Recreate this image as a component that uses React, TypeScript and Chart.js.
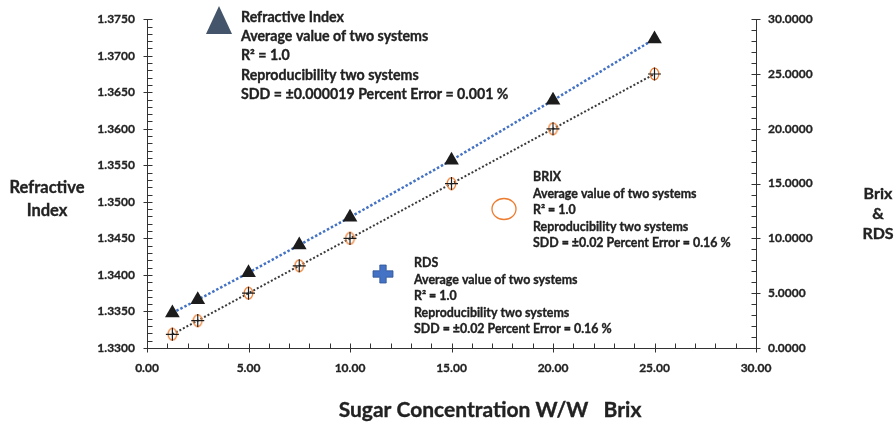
import React, { useEffect, useRef } from 'react';
import { Chart, registerables } from 'chart.js';

Chart.register(...registerables);

// ---- data ----
const brixConc = [1.25, 2.5, 5, 7.5, 10, 15, 20, 25];
const refractiveIndex = [1.3348, 1.3366, 1.3403, 1.3441, 1.3479, 1.3557, 1.3639, 1.3723];
const brixValues = [1.25, 2.5, 5, 7.5, 10, 15, 20, 25];
const rdsValues = [1.25, 2.5, 5, 7.5, 10, 15, 20, 25];

const xTicks = [0, 5, 10, 15, 20, 25, 30];
const riTicks = [1.33, 1.335, 1.34, 1.345, 1.35, 1.355, 1.36, 1.365, 1.37, 1.375];
const brixTicks = [0, 5, 10, 15, 20, 25, 30];

const riTitle = ['Refractive', 'Index'];
const rightTitle = ['Brix', '&', 'RDS'];
const xTitle = 'Sugar Concentration W/W   Brix';

const riNote = [
  'Refractive Index',
  'Average value of two systems',
  'R\u00B2 = 1.0',
  'Reproducibility two systems',
  'SDD = \u00B10.000019 Percent Error = 0.001 %',
];
const brixNote = [
  'BRIX',
  'Average value of two systems',
  'R\u00B2 = 1.0',
  'Reproducibility two systems',
  'SDD = \u00B10.02 Percent Error = 0.16 %',
];
const rdsNote = [
  'RDS',
  'Average value of two systems',
  'R\u00B2 = 1.0',
  'Reproducibility two systems',
  'SDD = \u00B10.02 Percent Error = 0.16 %',
];

const FONT = 'Lato, Carlito, Calibri, sans-serif';
const TEXT = '#222222';
const AXIS = '#333333';

function makeEllipse(): HTMLCanvasElement {
  const c = document.createElement('canvas');
  c.width = 11;
  c.height = 14;
  const g = c.getContext('2d')!;
  g.strokeStyle = '#ED7D31';
  g.lineWidth = 1.3;
  g.beginPath();
  g.ellipse(5.5, 7, 4.3, 5.8, 0, 0, Math.PI * 2);
  g.stroke();
  return c;
}

// draws bold text with a faint outline to match the heavier reference weight
function boldText(ctx: CanvasRenderingContext2D, t: string, x: number, y: number) {
  ctx.fillText(t, x, y);
  ctx.strokeText(t, x, y);
}

const decorPlugin = {
  id: 'decor',
  afterDraw(chart: any) {
    const ctx = chart.ctx as CanvasRenderingContext2D;
    const { x, y, y2 } = chart.scales;
    const area = chart.chartArea;
    ctx.save();
    ctx.strokeStyle = AXIS;
    ctx.lineWidth = 1;
    ctx.beginPath();
    // left axis ticks
    const lx = Math.round(area.left) + 0.5;
    for (let i = 0; i <= 45; i++) {
      const v = riTicks[0] + i * 0.001;
      const py = Math.round(y.getPixelForValue(v)) + 0.5;
      const major = i % 5 === 0;
      ctx.moveTo(major ? lx - 4 : lx, py);
      ctx.lineTo(lx + 5, py);
    }
    // right axis ticks
    const rx = Math.round(area.right) + 0.5;
    for (let i = 0; i <= 30; i++) {
      const py = Math.round(y2.getPixelForValue(i)) + 0.5;
      const major = i % 5 === 0;
      ctx.moveTo(rx - 5, py);
      ctx.lineTo(major ? rx + 4 : rx, py);
    }
    // x axis ticks
    const by = Math.round(area.bottom) + 0.5;
    for (let i = 0; i <= 30; i++) {
      const px = Math.round(x.getPixelForValue(i)) + 0.5;
      const major = i % 5 === 0;
      ctx.moveTo(px, by - 5);
      ctx.lineTo(px, major ? by + 4 : by);
    }
    ctx.stroke();

    // axis titles
    ctx.fillStyle = TEXT;
    ctx.strokeStyle = TEXT;
    ctx.lineWidth = 0.35;
    ctx.textAlign = 'center';
    ctx.textBaseline = 'middle';
    ctx.font = `bold 16.5px ${FONT}`;
    riTitle.forEach((t, i) => boldText(ctx, t, 47, 188 + i * 23));
    ctx.font = `bold 16px ${FONT}`;
    rightTitle.forEach((t, i) => boldText(ctx, t, 878, 194 + i * 20));
    ctx.font = `bold 21px ${FONT}`;
    boldText(ctx, xTitle, 490, 410);

    // notes
    ctx.textAlign = 'left';
    ctx.textBaseline = 'alphabetic';
    ctx.font = `bold 14.2px ${FONT}`;
    riNote.forEach((t, i) => boldText(ctx, t, 241, 22 + i * 19.2));
    ctx.font = `bold 12.4px ${FONT}`;
    brixNote.forEach((t, i) => boldText(ctx, t, 533, 181 + i * 16.5));
    rdsNote.forEach((t, i) => boldText(ctx, t, 414, 267 + i * 16.6));

    // legend symbols
    ctx.fillStyle = '#44546A';
    ctx.beginPath();
    ctx.moveTo(219, 6);
    ctx.lineTo(232, 34);
    ctx.lineTo(206, 34);
    ctx.closePath();
    ctx.fill();

    ctx.strokeStyle = '#ED7D31';
    ctx.lineWidth = 1.3;
    ctx.beginPath();
    ctx.ellipse(504, 209, 12, 10.5, 0, 0, Math.PI * 2);
    ctx.stroke();

    // blue plus
    const cx = 383, cy = 274, a = 10, t = 3.2;
    ctx.fillStyle = '#4472C4';
    ctx.strokeStyle = '#2F5597';
    ctx.lineWidth = 0.8;
    ctx.beginPath();
    ctx.moveTo(cx - t, cy - a + 1);
    ctx.lineTo(cx + t, cy - a + 1);
    ctx.lineTo(cx + t, cy - t);
    ctx.lineTo(cx + a, cy - t);
    ctx.lineTo(cx + a, cy + t);
    ctx.lineTo(cx + t, cy + t);
    ctx.lineTo(cx + t, cy + a - 1);
    ctx.lineTo(cx - t, cy + a - 1);
    ctx.lineTo(cx - t, cy + t);
    ctx.lineTo(cx - a, cy + t);
    ctx.lineTo(cx - a, cy - t);
    ctx.lineTo(cx - t, cy - t);
    ctx.closePath();
    ctx.fill();
    ctx.stroke();
    ctx.restore();
  },
};

export default function App() {
  const ref = useRef<HTMLCanvasElement | null>(null);
  useEffect(() => {
    if (!ref.current) return;
    const ellipse = makeEllipse();
    const riPts = brixConc.map((b, i) => ({ x: b, y: refractiveIndex[i] }));
    const brixPts = brixConc.map((b, i) => ({ x: b, y: brixValues[i] }));
    const rdsPts = brixConc.map((b, i) => ({ x: b, y: rdsValues[i] }));
    const tickFont = { family: FONT, size: 12, weight: 'bold' as const };
    const tickStroke = { textStrokeColor: TEXT, textStrokeWidth: 0.3 };
    const chart = new Chart(ref.current, {
      type: 'scatter',
      data: {
        datasets: [
          {
            label: 'Refractive Index',
            data: riPts,
            yAxisID: 'y',
            pointStyle: 'triangle',
            pointRadius: 8.5,
            backgroundColor: '#1c1c1c',
            borderColor: '#1c1c1c',
            borderWidth: 0,
            order: 1,
          },
          {
            label: 'BRIX',
            data: brixPts,
            yAxisID: 'y2',
            pointStyle: ellipse as any,
            pointRadius: 6,
            order: 2,
          },
          {
            label: 'RDS',
            data: rdsPts,
            yAxisID: 'y2',
            pointStyle: 'cross',
            pointRadius: 6.5,
            borderColor: '#1c1c1c',
            borderWidth: 1.2,
            order: 1,
          },
          {
            label: 'RI trend',
            data: riPts,
            yAxisID: 'y',
            showLine: true,
            borderColor: '#4472C4',
            borderWidth: 2.5,
            borderDash: [2.5, 2],
            pointRadius: 0,
            order: 10,
          },
          {
            label: 'Brix trend',
            data: brixPts,
            yAxisID: 'y2',
            showLine: true,
            borderColor: '#3a3a3a',
            borderWidth: 2,
            borderDash: [2, 2],
            pointRadius: 0,
            order: 10,
          },
        ],
      },
      options: {
        animation: false,
        responsive: false,
        maintainAspectRatio: false,
        layout: { padding: { top: 19, left: 0, right: 0, bottom: 0 } },
        plugins: { legend: { display: false }, tooltip: { enabled: false } },
        scales: {
          x: {
            type: 'linear',
            min: 0,
            max: 30,
            afterBuildTicks: (s: any) => {
              s.ticks = xTicks.map((v) => ({ value: v }));
            },
            afterFit: (s: any) => {
              s.height = 78;
            },
            grid: { display: false, drawTicks: false },
            border: { display: true, color: AXIS, width: 1 },
            ticks: {
              color: TEXT,
              font: tickFont,
              padding: 13,
              maxRotation: 0,
              ...tickStroke,
              callback: (v: any) => Number(v).toFixed(2),
            },
          },
          y: {
            type: 'linear',
            position: 'left',
            min: 1.33,
            max: 1.375,
            afterBuildTicks: (s: any) => {
              s.ticks = riTicks.map((v) => ({ value: v }));
            },
            afterFit: (s: any) => {
              s.width = 147;
            },
            grid: { display: false, drawTicks: false },
            border: { display: true, color: AXIS, width: 1 },
            ticks: {
              color: TEXT,
              font: tickFont,
              padding: 12,
              ...tickStroke,
              callback: (v: any) => Number(v).toFixed(4),
            },
          },
          y2: {
            type: 'linear',
            position: 'right',
            min: 0,
            max: 30,
            afterBuildTicks: (s: any) => {
              s.ticks = brixTicks.map((v) => ({ value: v }));
            },
            afterFit: (s: any) => {
              s.width = 140;
            },
            grid: { display: false, drawTicks: false },
            border: { display: true, color: AXIS, width: 1 },
            ticks: {
              color: TEXT,
              font: tickFont,
              padding: 12,
              ...tickStroke,
              callback: (v: any) => Number(v).toFixed(4),
            },
          },
        },
      },
      plugins: [decorPlugin],
    });
    return () => chart.destroy();
  }, []);

  return (
    <div style={{ position: 'fixed', left: 0, top: 0, width: 896, height: 426, background: '#fff' }}>
      <canvas ref={ref} width={896} height={426} style={{ width: 896, height: 426 }} />
    </div>
  );
}
